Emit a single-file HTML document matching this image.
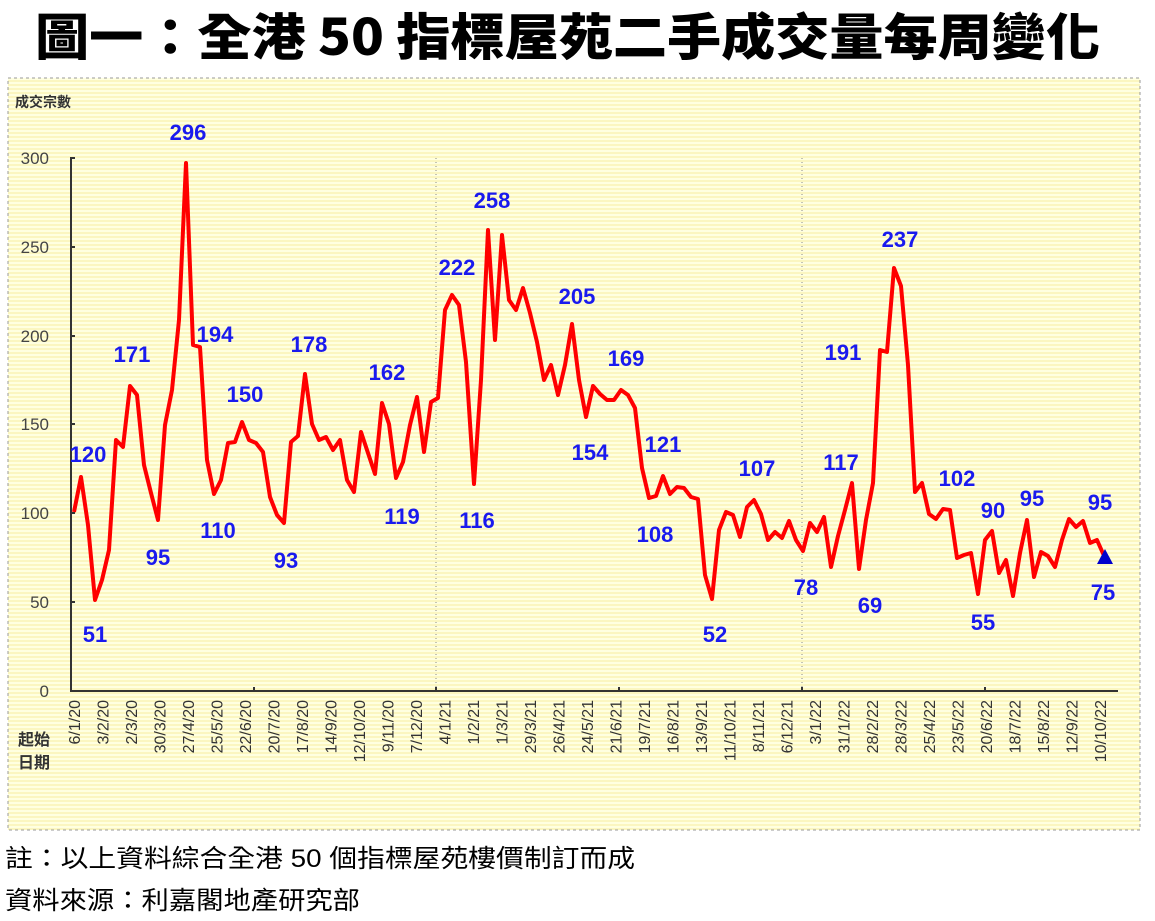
<!DOCTYPE html>
<html><head><meta charset="utf-8"><style>
html,body{margin:0;padding:0;background:#fff;width:1155px;height:921px;overflow:hidden}
</style></head><body>
<svg width="1155" height="921" viewBox="0 0 1155 921" xmlns="http://www.w3.org/2000/svg">
<defs>
<pattern id="st" width="4" height="4" patternUnits="userSpaceOnUse">
<rect width="4" height="4" fill="#ffffe0"/><rect width="4" height="2" fill="#fbf6c0"/>
</pattern>
</defs>
<text x="35" y="55" font-family="'Noto Sans CJK TC','Noto Sans CJK SC',sans-serif" font-weight="900" font-size="50" textLength="1065" lengthAdjust="spacingAndGlyphs">圖一：全港 50 指標屋苑二手成交量每周變化</text>
<rect x="8" y="78" width="1132" height="752" fill="url(#st)" stroke="#999" stroke-dasharray="3,3"/>
<text x="15" y="107" font-family="'Noto Sans CJK TC',sans-serif" font-weight="700" font-size="14" fill="#333">成交宗數</text>
<g font-family="'Liberation Sans',sans-serif" font-size="17" fill="#444" text-anchor="end">
<text x="49" y="164">300</text><text x="49" y="253">250</text><text x="49" y="342">200</text><text x="49" y="430">150</text><text x="49" y="519">100</text><text x="49" y="608">50</text><text x="49" y="697">0</text>
</g>
<g stroke="#888" stroke-dasharray="1,3"><line x1="436" y1="158" x2="436" y2="691"/><line x1="802" y1="158" x2="802" y2="691"/></g>
<g stroke="#333" stroke-width="2" fill="none"><polyline points="75,158 71,158 71,691 1118,691"/>
<line x1="71" y1="247" x2="75" y2="247"/><line x1="71" y1="336" x2="75" y2="336"/><line x1="71" y1="424" x2="75" y2="424"/><line x1="71" y1="513" x2="75" y2="513"/><line x1="71" y1="602" x2="75" y2="602"/>
<line x1="254" y1="691" x2="254" y2="687"/><line x1="436" y1="691" x2="436" y2="687"/><line x1="619" y1="691" x2="619" y2="687"/><line x1="802" y1="691" x2="802" y2="687"/><line x1="985" y1="691" x2="985" y2="687"/></g>
<text x="18" y="745" font-family="'Noto Sans CJK TC',sans-serif" font-weight="700" font-size="16" fill="#333">起始</text>
<text x="18" y="768" font-family="'Noto Sans CJK TC',sans-serif" font-weight="700" font-size="16" fill="#333">日期</text>
<polyline fill="none" stroke="#ff0000" stroke-width="4" stroke-linejoin="round" points="74,512 81,477 88,525 95,600 102,580 109,550 116,440 123,447 130,386 137,395 144,465 151,493 158,520 165,425 172,390 179,320 186,163 193,345 200,347 207,460 214,494 221,480 228,443 235,442 242,422 249,440 256,443 263,452 270,497 277,515 284,523 291,442 298,436 305,374 312,424 319,440 326,437 333,450 340,440 347,480 354,492 361,432 368,453 375,474 382,403 389,424 396,478 403,462 410,425 417,397 424,452 431,402 438,398 445,310 452,295 459,305 466,362 474,484 481,380 488,230 495,340 502,235 509,300 516,310 523,288 530,313 537,342 544,380 551,365 558,395 565,365 572,324 579,380 586,417 593,386 600,394 607,400 614,400 621,390 628,395 635,408 642,468 649,498 656,496 663,476 670,494 677,487 684,488 691,497 698,499 705,575 712,599 719,530 726,512 733,515 740,537 747,507 754,500 761,514 768,540 775,532 782,538 789,521 796,540 803,551 810,523 817,532 824,517 831,567 838,536 845,510 852,483 859,569 866,520 873,483 880,350 887,352 894,268 901,286 908,365 915,492 922,483 929,514 936,519 943,509 950,510 957,558 964,555 971,553 978,594 985,540 992,531 999,573 1006,560 1013,596 1020,553 1027,520 1034,577 1041,552 1048,556 1055,567 1062,540 1069,519 1076,527 1083,521 1090,543 1097,540 1105,558"/>
<polygon points="1105,549 1097,564 1113,564" fill="#0000cc"/>
<g font-family="'Liberation Sans',sans-serif" font-size="22" font-weight="700" fill="#1a1aee" text-anchor="middle">
<text x="88" y="462">120</text><text x="95" y="642">51</text><text x="132" y="362">171</text><text x="158" y="565">95</text><text x="188" y="140">296</text><text x="215" y="342">194</text><text x="218" y="538">110</text><text x="245" y="402">150</text><text x="286" y="568">93</text><text x="309" y="352">178</text><text x="387" y="380">162</text><text x="402" y="524">119</text><text x="457" y="275">222</text><text x="477" y="528">116</text><text x="492" y="208">258</text><text x="577" y="304">205</text><text x="590" y="460">154</text><text x="626" y="366">169</text><text x="663" y="452">121</text><text x="655" y="542">108</text><text x="757" y="476">107</text><text x="715" y="642">52</text><text x="841" y="470">117</text><text x="843" y="360">191</text><text x="806" y="595">78</text><text x="870" y="613">69</text><text x="900" y="247">237</text><text x="957" y="486">102</text><text x="993" y="518">90</text><text x="983" y="630">55</text><text x="1032" y="506">95</text><text x="1100" y="510">95</text><text x="1103" y="600">75</text>
</g>
<g font-family="'Liberation Sans',sans-serif" font-size="16" fill="#333" text-anchor="end">
<text transform="translate(80,700) rotate(-90)">6/1/20</text>
<text transform="translate(108.5,700) rotate(-90)">3/2/20</text>
<text transform="translate(137,700) rotate(-90)">2/3/20</text>
<text transform="translate(165.5,700) rotate(-90)">30/3/20</text>
<text transform="translate(194,700) rotate(-90)">27/4/20</text>
<text transform="translate(222.5,700) rotate(-90)">25/5/20</text>
<text transform="translate(251,700) rotate(-90)">22/6/20</text>
<text transform="translate(279.5,700) rotate(-90)">20/7/20</text>
<text transform="translate(308,700) rotate(-90)">17/8/20</text>
<text transform="translate(336.5,700) rotate(-90)">14/9/20</text>
<text transform="translate(365,700) rotate(-90)">12/10/20</text>
<text transform="translate(393.5,700) rotate(-90)">9/11/20</text>
<text transform="translate(422,700) rotate(-90)">7/12/20</text>
<text transform="translate(450.5,700) rotate(-90)">4/1/21</text>
<text transform="translate(479,700) rotate(-90)">1/2/21</text>
<text transform="translate(507.5,700) rotate(-90)">1/3/21</text>
<text transform="translate(536,700) rotate(-90)">29/3/21</text>
<text transform="translate(564.5,700) rotate(-90)">26/4/21</text>
<text transform="translate(593,700) rotate(-90)">24/5/21</text>
<text transform="translate(621.5,700) rotate(-90)">21/6/21</text>
<text transform="translate(650,700) rotate(-90)">19/7/21</text>
<text transform="translate(678.5,700) rotate(-90)">16/8/21</text>
<text transform="translate(707,700) rotate(-90)">13/9/21</text>
<text transform="translate(735.5,700) rotate(-90)">11/10/21</text>
<text transform="translate(764,700) rotate(-90)">8/11/21</text>
<text transform="translate(792.5,700) rotate(-90)">6/12/21</text>
<text transform="translate(821,700) rotate(-90)">3/1/22</text>
<text transform="translate(849.5,700) rotate(-90)">31/1/22</text>
<text transform="translate(878,700) rotate(-90)">28/2/22</text>
<text transform="translate(906.5,700) rotate(-90)">28/3/22</text>
<text transform="translate(935,700) rotate(-90)">25/4/22</text>
<text transform="translate(963.5,700) rotate(-90)">23/5/22</text>
<text transform="translate(992,700) rotate(-90)">20/6/22</text>
<text transform="translate(1020.5,700) rotate(-90)">18/7/22</text>
<text transform="translate(1049,700) rotate(-90)">15/8/22</text>
<text transform="translate(1077.5,700) rotate(-90)">12/9/22</text>
<text transform="translate(1106,700) rotate(-90)">10/10/22</text>
</g>
<text x="5" y="867" font-family="'Liberation Sans','Noto Sans CJK TC',sans-serif" font-size="25" fill="#000" textLength="630" lengthAdjust="spacingAndGlyphs">註：以上資料綜合全港 50 個指標屋苑樓價制訂而成</text>
<text x="5" y="909" font-family="'Liberation Sans','Noto Sans CJK TC',sans-serif" font-size="25" fill="#000" textLength="355" lengthAdjust="spacingAndGlyphs">資料來源：利嘉閣地產研究部</text>
</svg>
</body></html>
